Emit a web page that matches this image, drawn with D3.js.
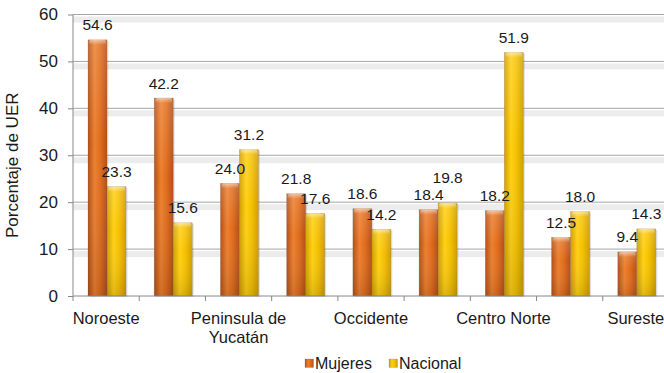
<!DOCTYPE html>
<html>
<head>
<meta charset="utf-8">
<script src="https://cdn.jsdelivr.net/npm/d3@7"></script>
<style>
  html, body { margin: 0; padding: 0; background: #fff; }
  svg { display: block; font-family: "Liberation Sans", Arial, sans-serif; }
</style>
</head>
<body>
<svg id="chart" width="664" height="373"></svg>
<script>
// Regions (only every other one carries a visible axis label)
const tickLabels = ["Noroeste", "", "Peninsula de\nYucatán", "", "Occidente", "", "Centro Norte", "", "Sureste"];
const mujeres  = [54.6, 42.2, 24.0, 21.8, 18.6, 18.4, 18.2, 12.5, 9.4];
const nacional = [23.3, 15.6, 31.2, 17.6, 14.2, 19.8, 51.9, 18.0, 14.3];
const seriesNames = ["Mujeres", "Nacional"];
const yTicks = [0, 10, 20, 30, 40, 50, 60];

const svg = d3.select("#chart");
const margin = { left: 73, top: 14.5, bottom: 77 };
const plotRight = 669;
const height = 373;

const x = d3.scaleBand().domain(d3.range(tickLabels.length)).range([margin.left, plotRight]);
const y = d3.scaleLinear().domain([0, 60]).range([height - margin.bottom, margin.top]);
const inner = d3.scaleBand().domain(seriesNames).range([15, 53]);

// Gradients for the rounded, lit bars
const defs = svg.append("defs");
function barGradient(id, edge, mid, light) {
  const g = defs.append("linearGradient").attr("id", id).attr("x1", 0).attr("x2", 1).attr("y1", 0).attr("y2", 0);
  g.append("stop").attr("offset", "0%").attr("stop-color", edge);
  g.append("stop").attr("offset", "35%").attr("stop-color", light);
  g.append("stop").attr("offset", "65%").attr("stop-color", mid);
  g.append("stop").attr("offset", "100%").attr("stop-color", edge);
}
barGradient("gMuj", "#b24f18", "#df6c1d", "#ec802e");
barGradient("gNac", "#d09e00", "#f3c000", "#ffd015");
const shade = defs.append("linearGradient").attr("id", "gShade").attr("x1", 0).attr("x2", 0).attr("y1", 0).attr("y2", 1);
shade.append("stop").attr("offset", "0%").attr("stop-color", "#fff").attr("stop-opacity", 0.15);
shade.append("stop").attr("offset", "40%").attr("stop-color", "#fff").attr("stop-opacity", 0);
shade.append("stop").attr("offset", "100%").attr("stop-color", "#000").attr("stop-opacity", 0.12);
const cap = defs.append("linearGradient").attr("id", "gCap").attr("x1", 0).attr("x2", 0).attr("y1", 0).attr("y2", 1);
cap.append("stop").attr("offset", "0%").attr("stop-color", "#fff").attr("stop-opacity", 0.5);
cap.append("stop").attr("offset", "100%").attr("stop-color", "#fff").attr("stop-opacity", 0);

// Gridlines with a soft band underneath
const grid = svg.append("g");
yTicks.filter(t => t > 0).forEach(t => {
  grid.append("rect").attr("x", margin.left).attr("y", y(t) + 2).attr("width", plotRight - margin.left)
    .attr("height", 6).attr("fill", "#ececec");
  grid.append("line").attr("x1", margin.left).attr("x2", plotRight).attr("y1", y(t)).attr("y2", y(t))
    .attr("stroke", "#a6a6a6").attr("stroke-width", 1);
});

// Bars
const colors = { Mujeres: "url(#gMuj)", Nacional: "url(#gNac)" };
const data = tickLabels.map((_, i) => [
  { s: "Mujeres", i, v: mujeres[i] },
  { s: "Nacional", i, v: nacional[i] }
]).flat();

const bars = svg.append("g");
data.forEach(d => {
  const bx = x(d.i) + inner(d.s);
  const bw = inner.bandwidth();
  const by = y(d.v);
  const bh = y(0) - by;
  // drop shadow to the right
  bars.append("rect").attr("x", bx + 1.5).attr("y", by + 1).attr("width", bw).attr("height", bh)
    .attr("fill", "#000").attr("opacity", 0.12);
  bars.append("rect").attr("x", bx).attr("y", by).attr("width", bw).attr("height", bh)
    .attr("fill", colors[d.s]).attr("stroke", "rgba(120,90,60,0.35)").attr("stroke-width", 0.6);
  bars.append("rect").attr("x", bx).attr("y", by).attr("width", bw).attr("height", bh)
    .attr("fill", "url(#gShade)");
  bars.append("rect").attr("x", bx + 1).attr("y", by).attr("width", bw - 2).attr("height", 5)
    .attr("rx", 2).attr("fill", "url(#gCap)");
});

// Value labels: placed above each bar; within a pair, a label that would
// collide with its neighbour is lifted above it.
const labelGap = 9.5, minSep = 17;
data.forEach(d => { d.ly = y(d.v) - labelGap; });
d3.range(tickLabels.length).forEach(i => {
  const [a, b] = data.filter(d => d.i === i);
  if (Math.abs(a.ly - b.ly) < minSep) {
    const [hi, lo] = a.v >= b.v ? [a, b] : [b, a];
    hi.ly = lo.ly - minSep;
  }
});
svg.append("g").selectAll("text").data(data).join("text")
  .attr("x", d => x(d.i) + inner(d.s) + inner.bandwidth() / 2)
  .attr("y", d => d.ly)
  .attr("text-anchor", "middle")
  .attr("font-size", 15.5)
  .attr("fill", "#1a1a1a")
  .text(d => d.v.toFixed(1));

// Y axis
const yAxis = svg.append("g").attr("transform", `translate(${margin.left},0)`)
  .call(d3.axisLeft(y).tickValues(yTicks).tickSize(5).tickPadding(10).tickFormat(d3.format("d")));
yAxis.select(".domain").attr("stroke", "#888").attr("d", `M0,${y(60)}V${y(0)}`);
yAxis.selectAll(".tick line").attr("stroke", "#888");
yAxis.selectAll("text").attr("font-size", 17).attr("fill", "#1a1a1a").attr("font-family", "Liberation Sans, Arial, sans-serif");

// X axis: category boundaries as tick marks
const xAxisG = svg.append("g").attr("transform", `translate(0,${y(0)})`);
xAxisG.append("line").attr("x1", margin.left).attr("x2", plotRight).attr("stroke", "#888");
d3.range(tickLabels.length + 1).forEach(k => {
  const bx = margin.left + k * x.step();
  xAxisG.append("line").attr("x1", bx).attr("x2", bx).attr("y1", 0).attr("y2", 5).attr("stroke", "#888");
});
tickLabels.forEach((lab, i) => {
  if (!lab) return;
  const t = xAxisG.append("text")
    .attr("x", x(i) + x.bandwidth() / 2)
    .attr("y", 28)
    .attr("text-anchor", "middle")
    .attr("font-size", 16.5)
    .attr("fill", "#1a1a1a");
  lab.split("\n").forEach((line, j) => {
    t.append("tspan").attr("x", x(i) + x.bandwidth() / 2).attr("dy", j === 0 ? 0 : 19).text(line);
  });
});

// Y title
svg.append("text")
  .attr("transform", `translate(18,${(y(0) + y(60)) / 2 + 10}) rotate(-90)`)
  .attr("text-anchor", "middle")
  .attr("font-size", 17)
  .attr("fill", "#1a1a1a")
  .text("Porcentaje de UER");

// Legend
const legendItems = [
  { name: "Mujeres", fill: "url(#gMuj)", x: 305 },
  { name: "Nacional", fill: "url(#gNac)", x: 389 }
];
const lg = svg.append("g");
legendItems.forEach(it => {
  lg.append("rect").attr("x", it.x).attr("y", 359).attr("width", 8.5).attr("height", 8.5)
    .attr("fill", it.fill).attr("stroke", "rgba(120,90,60,0.4)").attr("stroke-width", 0.5);
  lg.append("text").attr("x", it.x + 10).attr("y", 368.5).attr("font-size", 16).attr("fill", "#1a1a1a").text(it.name);
});
</script>
</body>
</html>
